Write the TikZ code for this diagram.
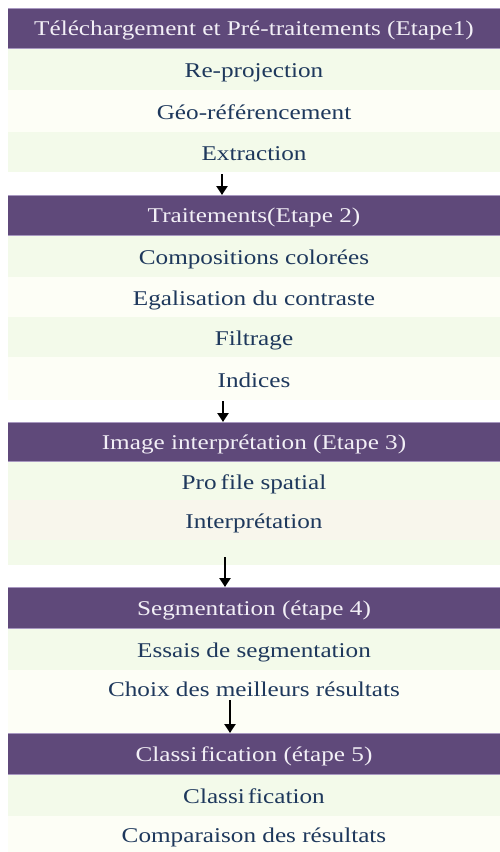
\documentclass[tikz,border=0pt]{standalone}
\usepackage{fontspec}
\setmainfont{Liberation Serif}[FakeStretch=1.2]
\usetikzlibrary{arrows.meta}
\definecolor{hdr}{HTML}{5F497A}
\definecolor{hdrline}{HTML}{A898C0}
\definecolor{hdrtxt}{HTML}{F2EFF6}
\definecolor{rowg}{HTML}{F3FAEA}
\definecolor{rowp}{HTML}{FDFEF6}
\definecolor{rowb}{HTML}{F8F6EC}
\definecolor{rowtxt}{HTML}{1E385C}
\tikzset{
  base/.style={rectangle, inner sep=0pt, outer sep=0pt, minimum width=492pt, align=center,
    text height=21pt, text depth=4pt, font=\fontsize{21pt}{25pt}\selectfont},
  hdrbox/.style={base, fill=hdr, text=hdrtxt, text height=20pt, text depth=5pt},
  rowbox/.style={base, text=rowtxt},
  lbl/.style={inner sep=0pt, text=rowtxt, text height=21pt, text depth=4pt, font=\fontsize{21pt}{25pt}\selectfont},
  arr/.style={-{Triangle[length=9pt,width=11pt]}, line width=2.4pt, black}
}
\begin{document}
\begin{tikzpicture}[x=1pt,y=-1pt]
\useasboundingbox (0,0) rectangle (500,852);
% Stage 1
\node[hdrbox, minimum height=40pt] (h1) at (254,28) {Téléchargement et Pré-traitements (Etape1)};
\node[rowbox, fill=rowg, minimum height=42pt] (r11) at (254,69) {Re-projection};
\node[rowbox, fill=rowp, minimum height=42pt] (r12) at (254,111) {Géo-référencement};
\node[rowbox, fill=rowg, minimum height=40pt] (r13) at (254,152) {Extraction};
% Stage 2
\node[hdrbox, minimum height=40pt] (h2) at (254,215) {Traitements(Etape 2)};
\node[rowbox, fill=rowg, minimum height=42pt] (r21) at (254,256) {Compositions colorées};
\node[rowbox, fill=rowp, minimum height=40pt] (r22) at (254,297) {Egalisation du contraste};
\node[rowbox, fill=rowg, minimum height=40pt] (r23) at (254,337) {Filtrage};
\node[rowbox, fill=rowp, minimum height=43pt] (r24) at (254,378.5) {Indices};
% Stage 3
\node[hdrbox, minimum height=39pt] (h3) at (254,441.5) {Image interprétation (Etape 3)};
\node[rowbox, fill=rowg, minimum height=39pt] (r31) at (254,480.5) {Pro\kern4pt file spatial};
\node[rowbox, fill=rowb, minimum height=40pt] (r32) at (254,520) {Interprétation};
\node[rowbox, fill=rowg, minimum height=25pt] (r33) at (254,552.5) {};
% Stage 4
\node[hdrbox, minimum height=41pt] (h4) at (254,607.5) {Segmentation (étape 4)};
\node[rowbox, fill=rowg, minimum height=42pt] (r41) at (254,649) {Essais de segmentation};
\node[rowbox, fill=rowp, minimum height=63pt] (r42) at (254,701.5) {};
\node[lbl] (t42) at (254,688) {Choix des meilleurs résultats};
% Stage 5
\node[hdrbox, minimum height=41pt] (h5) at (254,753.5) {Classi\kern3pt fication (étape 5)};
\node[rowbox, fill=rowg, minimum height=42pt] (r51) at (254,795) {Classi\kern3pt fication};
\node[rowbox, fill=rowp, minimum height=36pt] (r52) at (254,834) {Comparaison des résultats};
% header edge lines
\foreach \h in {h1,h2,h3,h4,h5}{
  \draw[hdrline, line width=1pt] (\h.north west) -- (\h.north east);
  \draw[hdrline, line width=1pt] (\h.south west) -- (\h.south east);
}
% arrows
\coordinate (a1s) at (222,174);
\coordinate (a2s) at (223,401);
\coordinate (a3s) at (225,557);
\coordinate (a4s) at (230,700);
\draw[arr] (a1s) -- (a1s |- h2.north);
\draw[arr] (a2s) -- (a2s |- h3.north);
\draw[arr] (a3s) -- (a3s |- h4.north);
\draw[arr] (a4s) -- (a4s |- h5.north);
\end{tikzpicture}
\end{document}
